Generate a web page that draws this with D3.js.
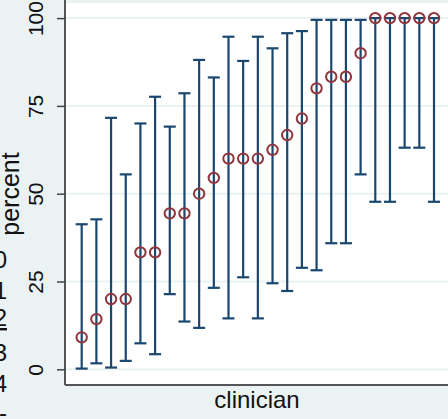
<!DOCTYPE html>
<html>
<head>
<meta charset="utf-8">
<script src="https://cdn.jsdelivr.net/npm/d3@7"></script>
<style>
  html, body { margin: 0; padding: 0; background: #eaf2f3; }
  svg { display: block; font-family: 'Liberation Sans', Arial, sans-serif; }
</style>
</head>
<body>
<svg id="chart" width="448" height="419"></svg>
<script>
// clinicians sorted by percent, with 95% CI bounds
const clinicians = d3.range(1, 26)
const pct = [9.1, 14.3, 20, 20, 33.3, 33.3, 44.4, 44.4, 50, 54.5, 60, 60, 60, 62.5, 66.7,
  71.4, 80, 83.3, 83.3, 90, 100, 100, 100, 100, 100]
const lower = [0.2, 1.7, 0.5, 2.4, 7.4, 4.3, 21.4, 13.6, 11.8, 23.2, 14.5, 26.2, 14.5, 24.5, 22.3,
  28.9, 28.2, 35.9, 35.9, 55.5, 47.7, 47.7, 63.1, 63.1, 47.7]
const upper = [41.3, 42.7, 71.6, 55.5, 70.0, 77.6, 69.1, 78.6, 88.1, 83.1, 94.7, 87.8, 94.7, 91.4, 95.7,
  96.3, 99.5, 99.5, 99.5, 99.5, 100, 100, 100, 100, 100]
const yTicks = [0, 25, 50, 75, 100]
const sideDigits = ['0', '1', '2', '3', '4', '-']

const svg = d3.select('#chart')
const navy = '#1a476f'
const maroon = '#90353b'

const x = d3.scaleLinear().domain([1, 25]).range([81.7, 434])
const y = d3.scaleLinear().domain([0, 100]).range([369.3, 18.1])

const plotLeft = 65
const plotBottom = 385

// plot region
svg.append('rect')
  .attr('x', plotLeft).attr('y', 3)
  .attr('width', 448 - plotLeft).attr('height', plotBottom - 3)
  .attr('fill', '#fff')

// gridlines
svg.append('g')
  .selectAll('line')
  .data(yTicks)
  .enter()
  .append('line')
  .attr('x1', plotLeft).attr('x2', 448)
  .attr('y1', d => y(d)).attr('y2', d => y(d))
  .attr('stroke', '#eaf2f3')
  .attr('stroke-width', 2)

// y axis
const yAxis = d3.axisLeft(y).tickValues(yTicks).tickSize(8).tickPadding(4)
const ga = svg.append('g').attr('transform', `translate(${plotLeft},0)`).call(yAxis)
ga.select('.domain').remove()
ga.selectAll('.tick line').attr('stroke', '#444').attr('stroke-width', 1.5)
ga.selectAll('.tick text').remove()
ga.selectAll('.tick')
  .append('text')
  .attr('transform', 'translate(-22,0) rotate(-90)')
  .attr('text-anchor', 'middle')
  .attr('fill', '#111')
  .attr('font-size', 21)
  .text(d => d)

// axis lines
svg.append('line')
  .attr('x1', plotLeft).attr('x2', plotLeft)
  .attr('y1', 0).attr('y2', plotBottom)
  .attr('stroke', '#444').attr('stroke-width', 1.8)
svg.append('line')
  .attr('x1', plotLeft).attr('x2', 448)
  .attr('y1', plotBottom).attr('y2', plotBottom)
  .attr('stroke', '#555').attr('stroke-width', 2)

// error bars
const bars = svg.append('g')
  .selectAll('g')
  .data(clinicians)
  .enter()
  .append('g')
  .attr('stroke', navy)
  .attr('stroke-width', 2.2)

bars.append('line')
  .attr('x1', d => x(d)).attr('x2', d => x(d))
  .attr('y1', (d, i) => y(lower[i])).attr('y2', (d, i) => y(upper[i]))
bars.append('line')
  .attr('x1', d => x(d) - 6).attr('x2', d => x(d) + 6)
  .attr('y1', (d, i) => y(lower[i])).attr('y2', (d, i) => y(lower[i]))
bars.append('line')
  .attr('x1', d => x(d) - 6).attr('x2', d => x(d) + 6)
  .attr('y1', (d, i) => y(upper[i])).attr('y2', (d, i) => y(upper[i]))

// point estimates
svg.append('g')
  .selectAll('circle')
  .data(clinicians)
  .enter()
  .append('circle')
  .attr('cx', d => x(d))
  .attr('cy', (d, i) => y(pct[i]))
  .attr('r', 5.2)
  .attr('fill', 'none')
  .attr('stroke', maroon)
  .attr('stroke-width', 2)

// titles
svg.append('text')
  .attr('transform', 'translate(19,194) rotate(-90)')
  .attr('text-anchor', 'middle')
  .attr('font-size', 25)
  .attr('fill', '#111')
  .text('percent')

svg.append('text')
  .attr('x', 257).attr('y', 408)
  .attr('text-anchor', 'middle')
  .attr('font-size', 24)
  .attr('fill', '#111')
  .text('clinician')

// leftover digits cut at the left edge
const digitY = [268, 299, 326, 361, 392, 421]
svg.append('g')
  .selectAll('text')
  .data(sideDigits)
  .enter()
  .append('text')
  .attr('x', 7)
  .attr('y', (d, i) => digitY[i])
  .attr('text-anchor', 'end')
  .attr('font-size', 24)
  .attr('fill', '#111')
  .attr('text-decoration', d => (d === '2' ? 'underline' : null))
  .text(d => d)
</script>
</body>
</html>
